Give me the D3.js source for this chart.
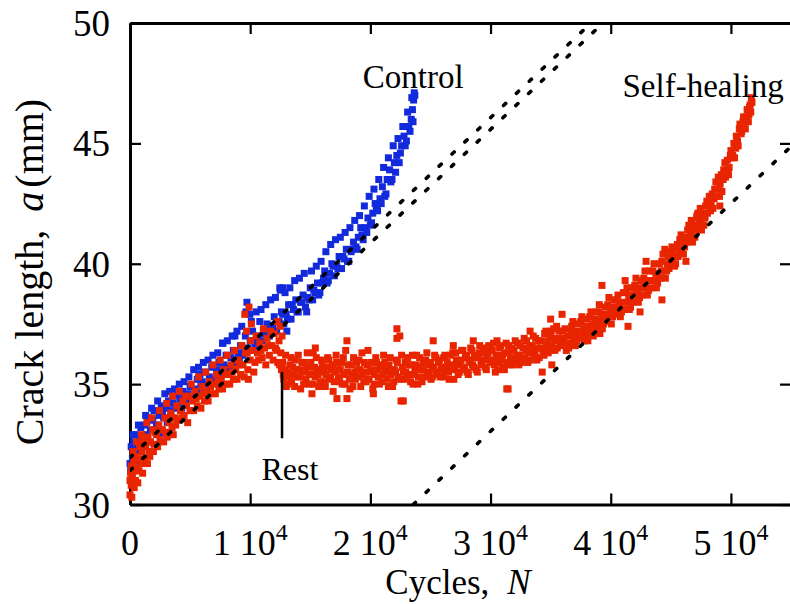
<!DOCTYPE html>
<html>
<head>
<meta charset="utf-8">
<script src="https://cdn.jsdelivr.net/npm/d3@7"></script>
<style>
  html, body { margin: 0; padding: 0; background: #fff; }
  svg { display: block; font-family: "Liberation Serif", "Times New Roman", serif; }
</style>
</head>
<body>
<svg id="chart" width="790" height="604"></svg>
<script>
/* ── DATA ── */
const xTicks = [0, 10000, 20000, 30000, 40000, 50000];
const yTicks = [30, 35, 40, 45, 50];

// control specimen: [cycles, crack length mm]
const control = [
  [0,31.7],[100,32.4],[200,31.9],[300,32.6],[400,32.1],[500,32.9],[600,32.4],[800,32.7],[900,33.2],[1000,32.6],
  [1200,33.3],[1400,32.9],[1500,33.6],[1700,33.1],[1900,33.5],[2000,33.9],[2200,33.3],[2400,33.7],[2600,34.1],[2800,33.6],
  [3000,34.0],[3200,34.3],[3400,33.9],[3600,34.2],[3800,34.5],[3950,34.7],[4000,34.1],[4200,34.4],[4400,34.7],[4600,34.3],[4800,34.6],
  [5000,34.9],[5200,34.5],[5400,34.8],[5600,35.2],[5800,34.7],[5820,35.4],[6000,35.1],[6200,35.5],[6400,35.0],[6600,35.3],[6800,35.7],
  [7000,35.2],[7200,35.6],[7400,35.9],[7600,35.5],[7730,36.7],[7800,35.8],[8000,36.2],[8200,35.7],[8400,36.1],[8600,36.4],[8730,37.0],[8800,35.9],
  [9000,36.3],[9200,36.6],[9400,36.2],[9600,37.0],[9730,38.4],[9800,36.5],[9970,37.9],[10000,36.8],[10200,37.2],[10400,36.6],[10600,37.0],
  [10800,37.6],[11000,36.8],[11200,37.1],[11400,37.5],[11600,37.0],[11800,37.4],[12000,37.8],[12200,37.2],[12400,37.6],[12470,39.0],[12600,38.0],
  [12720,39.0],[12800,37.5],[13000,37.9],[13050,37.2],[13200,38.3],[13400,37.7],[13600,38.1],[13800,38.5],[14000,38.0],[14200,38.4],[14400,38.7],[14600,38.2],
  [14700,38.0],[14800,38.6],[15000,39.0],[15200,38.5],[15400,38.8],[15600,39.2],[15800,38.8],[16000,39.2],[16200,39.7],[16400,39.2],[16600,39.6],
  [16800,40.0],[17000,39.5],[17200,39.9],[17400,40.3],[17600,39.8],[17800,40.2],[18000,40.6],[18200,40.1],[18400,40.5],[18600,40.9],
  [18800,40.7],[19000,41.1],[19200,41.5],[19400,41.0],[19600,41.5],[19800,41.9],[20000,41.6],[20200,42.1],[20400,42.5],[20600,42.2],
  [20800,42.7],[21000,43.2],[21200,42.8],[21400,43.5],[21600,43.9],[21800,43.5],[22000,44.2],[22200,44.5],[22400,44.2],[22600,44.9],
  [22800,45.3],[23000,45.1],[23200,45.7],[23400,46.0],[23500,46.4],[23600,46.8],[23700,47.0],
  [50,31.4],[250,32.9],[450,31.8],[700,33.3],[850,32.2],[1100,32.5],[1300,33.7],[1600,32.6],[1800,34.0],[2100,33.1],
  [2300,34.3],[2500,32.9],[2700,33.8],[2900,34.6],[3100,33.4],[3300,34.7],[3500,33.6],[3700,34.8],[3900,34.0],[4100,35.0],
  [4300,34.0],[4500,35.1],[4700,34.2],[4900,35.3],[5100,34.4],[5300,35.6],[5500,34.5],[5700,35.7],[5900,35.0],[6100,35.9],
  [6300,34.7],[6500,36.0],[6700,35.0],[6900,36.2],[7100,35.1],[7300,36.3],[7500,35.3],[7700,36.7],[7900,35.5],[8100,36.8],
  [8300,35.7],[8500,37.0],[8700,36.0],[8900,37.2],[9100,36.1],[9300,37.4],[9500,36.3],[9650,38.0],[9900,36.4],[10100,37.6],
  [10300,36.8],[10500,38.0],[10700,36.8],[10900,38.1],[11100,37.2],[11300,38.3],[11500,37.3],[11700,38.5],[11900,37.4],[12100,38.6],
  [12300,37.6],[12500,38.9],[12700,37.9],[12900,38.8],[13100,37.7],[13300,39.0],[13500,38.3],[13700,39.3],[13900,38.0],[14100,39.4],
  [14300,38.4],[14500,39.6],[14900,38.5],[15100,39.7],[15300,38.9],[15500,39.9],[15700,38.7],[15900,40.1],[16100,39.4],[16300,40.5],
  [16500,39.3],[16700,40.8],[16900,39.9],[17100,41.0],[17300,39.8],[17500,41.1],[17700,40.3],[17900,41.3],[18100,40.1],[18300,41.5],
  [18500,40.6],[18700,41.8],[18900,40.6],[19100,42.0],[19300,41.2],[19500,42.4],[19700,41.3],[19900,42.8],[20100,41.7],[20300,43.1],
  [20500,42.3],[20700,43.5],[20900,42.5],[21100,44.0],[21300,42.9],[21500,44.4],[21700,43.4],[21900,44.9],[22100,43.8],[22300,45.2],
  [22500,44.6],[22700,45.7],[22900,44.9],[23100,46.3],[23300,45.5],[23450,46.9],[23550,45.9],[23650,47.1]
];

// self-healing specimen: [cycles, crack length mm]
const selfHealing = [
  [0,30.4],[0,31.0],[100,30.8],[100,31.6],[200,31.2],[300,30.9],[300,31.8],[400,31.4],[500,32.0],[600,31.5],
  [700,31.9],[800,32.4],[900,31.7],[1000,32.2],[1100,32.7],[1200,31.9],[1300,32.4],[1500,32.8],[1600,32.2],[1700,32.6],
  [1900,33.1],[2000,32.5],[2200,32.9],[2400,33.3],[2500,32.7],[2700,33.1],[2900,33.6],[3000,33.0],[3200,33.4],[3400,33.8],
  [3500,33.2],[3700,33.6],[3900,34.1],[4000,33.5],[4200,33.9],[4400,34.3],[4500,33.7],[4700,34.1],[4900,34.5],[5000,33.9],
  [5200,34.3],[5400,34.7],[5600,34.1],[5800,34.5],[6000,34.9],[6200,34.3],[6400,34.7],[6600,35.1],[6800,34.6],[7000,35.0],
  [7200,35.4],[7400,34.8],[7600,35.2],[7800,35.6],[8000,35.0],[8200,35.4],[8400,35.8],[8600,35.2],[8800,35.6],[9000,36.0],
  [9200,35.4],[9400,35.8],[9600,36.3],[9700,37.2],[9800,35.6],[9900,38.2],[10000,36.0],[10100,37.5],[10200,36.4],[10400,35.9],
  [10600,36.3],[10800,36.7],[11000,36.1],[11200,36.5],[11400,36.9],[11600,36.2],[11800,36.6],[12000,37.1],[12200,36.4],[12300,35.9],
  [12400,36.8],[12500,37.4],[12600,35.6],
  [50,31.3],[150,30.3],[250,32.2],[350,30.7],[450,31.0],[550,32.6],[650,30.9],[750,31.4],[950,32.9],[1050,31.3],
  [1250,32.6],[1400,33.4],[1450,31.7],[1650,32.0],[1800,33.6],[1950,32.2],[2100,33.0],[2300,32.4],[2450,33.9],[2600,33.1],
  [2800,32.6],[3050,34.2],[3100,32.8],[3300,33.6],[3550,34.5],[3600,32.9],[3800,33.3],[4100,34.7],[4300,33.6],[4600,34.5],
  [4800,33.4],[5100,35.0],[5300,33.9],[5500,34.4],[5700,35.3],[5900,34.0],[6100,34.6],[6300,35.5],[6500,34.3],[6700,34.9],
  [6900,35.8],[7100,34.6],[7300,35.1],[7500,36.0],[7700,34.8],[7900,35.4],[8100,36.2],[8300,35.0],[8500,35.5],[8700,36.4],
  [8900,35.2],[9100,35.8],[9300,36.6],[9500,35.3],[9550,37.9],[9750,36.3],[9850,35.2],[10050,36.8],[10300,35.5],[10500,37.0],
  [10700,36.0],[10900,36.4],[11100,37.3],[11300,35.8],[11500,36.6],[11700,37.2],[11900,36.0],[12100,36.5],[12250,37.6],[12450,35.8],
  [12550,36.3],[12650,37.0],
  // rest plateau
  [12700,35.9],[12800,35.2],[12900,35.6],[13000,34.9],[13150,35.5],[13300,35.8],[13450,35.1],[13600,35.4],[13750,36.0],[13900,35.3],
  [14050,35.6],[14200,34.8],[14350,35.5],[14500,35.9],[14650,35.2],[14800,35.7],[14950,35.0],[15100,35.4],[15140,34.6],[15250,36.3],[15400,35.3],
  [15420,36.5],[15550,35.6],[15700,34.9],[15850,35.5],[16000,35.8],[16150,35.1],[16300,35.4],[16450,36.1],[16600,35.2],[16750,35.6],[16900,34.7],
  [17050,35.5],[17200,35.9],[17220,34.4],[17350,35.3],[17500,35.6],[17650,35.0],[17800,35.4],[17950,36.4],[18050,36.8],[18050,34.4],[18100,35.5],[18250,35.2],[18400,35.8],
  [18550,34.9],[18700,35.5],[18850,35.9],[19000,35.3],[19150,35.6],[19300,36.3],[19450,35.1],[19600,35.5],[19750,35.8],[19900,35.2],
  [20050,35.6],[20200,34.8],[20250,34.6],[20350,35.4],[20500,35.9],[20650,35.3],[20800,35.7],[20950,35.1],[21100,36.2],[21250,35.5],[21400,35.2],
  [21550,35.8],[21700,35.4],[21850,34.9],[22000,35.6],[22150,36.0],[22210,37.3],[22210,36.9],[22300,35.3],[22450,37.0],[22550,34.3],[22650,35.7],[22740,34.3],[22800,35.2],
  [22950,35.5],[23100,36.1],[23250,35.4],[23400,35.8],[23550,35.0],[23700,35.6],[23850,36.2],[24000,35.3],[24150,35.7],[24300,35.1],
  [24450,35.6],[24600,36.0],[24750,35.4],[24900,35.8],[25050,35.2],[25200,35.7],[25230,36.8],[25350,36.2],[25500,35.5],[25650,35.9],[25800,35.3],
  [25950,35.7],[26100,36.1],[26250,35.5],[26400,35.9],[26550,35.2],[26700,35.8],[26850,36.3],[26900,36.6],[27000,35.6],[27150,36.0],[27300,35.4],
  [27450,35.9],[27600,36.4],[27750,35.7],[27900,36.1],[28050,35.5],[28200,36.0],[28350,36.5],[28500,35.8],[28560,36.8],[28650,36.2],[28800,35.6],
  [28950,36.1],[29100,36.6],[29250,35.9],[29400,36.3],[29550,35.7],[29700,36.2],[29850,36.6],[30000,35.9],
  [12750,35.4],[12950,36.2],[13100,35.0],[13250,35.3],[13400,36.1],[13550,35.7],[13700,34.9],[13850,35.6],[14000,36.2],[14150,35.3],
  [14300,35.9],[14450,35.0],[14600,35.6],[14750,36.3],[14900,35.4],[15050,35.9],[15200,35.0],[15350,35.7],[15500,36.1],[15650,35.4],
  [15800,35.1],[15950,36.0],[16100,35.6],[16250,34.9],[16400,35.7],[16550,36.0],[16700,35.3],[16850,35.8],[17000,35.1],[17150,36.2],
  [17300,35.6],[17450,35.1],[17600,35.9],[17750,36.1],[17900,35.0],[18150,35.8],[18300,34.8],[18450,35.4],[18600,36.1],[18750,35.2],
  [18900,35.6],[19050,36.0],[19200,34.9],[19350,35.4],[19500,35.9],[19650,35.1],[19800,36.4],[19950,35.5],[20100,35.9],[20300,35.0],
  [20450,36.1],[20600,35.6],[20750,35.0],[20900,35.8],[21050,35.4],[21200,35.9],[21350,35.7],[21500,34.9],[21650,36.1],[21800,35.6],
  [21950,35.1],[22100,35.5],[22250,35.9],[22400,35.2],[22600,36.2],[22750,35.5],[22900,35.9],[23050,35.3],[23200,35.8],[23350,35.1],
  [23500,36.2],[23650,35.4],[23800,35.8],[23950,35.0],[24100,36.1],[24250,35.6],[24400,35.9],[24550,35.3],[24700,36.3],[24850,35.5],
  [25000,35.9],[25150,35.3],[25300,35.6],[25450,36.1],[25600,35.4],[25750,36.0],[25900,35.6],[26050,35.3],[26200,36.2],[26350,35.7],
  [26500,35.5],[26650,36.2],[26800,35.7],[26950,35.2],[27100,36.3],[27250,35.8],[27400,35.5],[27550,36.0],[27700,36.4],[27850,35.6],
  [28000,36.2],[28150,35.4],[28300,35.9],[28450,36.4],[28600,35.7],[28750,36.1],[28900,35.5],[29050,36.3],[29200,35.8],[29350,36.5],
  [29500,36.0],[29650,35.6],[29800,36.3],[29950,36.5],
  // after rest
  [30150,36.4],[30300,35.8],[30450,36.2],[30540,36.8],[30600,35.6],[30750,36.5],[30900,36.0],[31050,35.7],[31200,36.3],[31350,35.9],[31350,34.8],[31460,34.8],[31500,36.6],
  [31650,36.1],[31800,35.8],[31950,36.4],[32100,36.0],[32250,36.7],[32400,36.2],[32550,35.9],[32700,36.5],[32850,36.1],[33000,36.8],
  [33150,36.3],[33290,37.2],[33300,36.0],[33450,36.6],[33600,36.2],[33750,36.9],[33900,36.5],[34050,36.1],[34200,36.8],[34300,35.5],[34350,36.4],[34500,37.1],
  [34650,36.6],[34800,36.3],[34950,37.0],[35000,37.7],[35100,36.6],[35100,35.8],[35250,37.3],[35400,36.8],[35550,36.5],[35700,37.2],[35850,36.8],[35950,37.9],[36000,37.2],
  [36150,36.7],[36300,36.4],[36450,37.0],[36600,36.7],[36750,37.4],[36900,36.9],[37050,36.6],[37200,37.2],[37350,36.9],[37500,37.6],
  [37650,37.1],[37800,36.8],[37950,37.4],[38100,37.1],[38100,36.8],[38250,37.8],[38400,37.3],[38550,37.0],[38700,37.7],[38850,37.4],[39000,38.0],
  [39100,37.1],[39150,37.6],[39270,39.1],[39300,37.3],[39450,37.9],[39600,37.6],[39750,38.3],[39900,37.8],[40050,37.5],[40200,38.2],[40350,37.9],[40500,38.5],
  [40650,38.1],[40800,37.8],[40950,38.4],[41100,38.1],[41200,39.3],[41250,38.8],[41400,38.4],[41440,37.4],[41550,38.1],[41700,38.7],[41850,38.4],[42000,39.1],
  [42150,38.7],[42300,38.4],[42440,38.0],[42450,39.0],[42600,38.7],[42750,39.4],[42900,39.0],[42940,40.1],[43050,38.7],[43200,39.3],[43350,39.0],[43500,39.7],
  [43650,39.3],[43800,39.0],[43950,39.6],[44100,39.4],[44250,40.1],[44260,38.5],[44400,39.7],[44500,40.6],[44550,39.4],[44700,40.0],[44850,39.8],[45000,40.5],
  [45150,40.2],[45300,39.9],[45450,40.6],[45600,40.3],[45750,41.0],[45900,40.6],[46050,40.4],[46200,41.1],[46260,40.1],[46350,40.9],[46500,41.6],
  [46650,41.2],[46800,40.9],[46950,41.6],[47100,41.4],[47180,42.0],[47250,42.1],[47400,41.7],[47550,41.4],[47700,42.1],[47850,41.9],[48000,42.6],
  [48150,42.4],[48300,42.2],[48450,42.9],[48600,42.7],[48750,43.4],[48900,43.1],[49050,42.8],[49080,42.4],[49200,43.7],[49350,43.5],[49500,44.2],
  [49650,43.9],[49800,43.7],[49950,44.5],[50100,44.4],[50250,45.0],[50400,44.8],[50550,45.1],[50700,45.6],[50850,45.4],[51000,45.9],
  [51150,45.8],[51300,46.1],[51400,46.4],[51500,46.2],[51600,46.6],[51700,46.9],
  [30100,36.0],[30250,36.7],[30400,35.5],[30550,36.1],[30700,35.9],[30850,36.6],[31000,36.2],[31150,35.6],[31300,36.7],[31450,36.3],
  [31600,35.8],[31750,36.5],[31900,35.9],[32050,36.8],[32200,36.2],[32350,35.8],[32500,36.6],[32650,36.0],[32800,36.9],[32950,36.4],
  [33100,35.9],[33250,36.6],[33400,36.4],[33550,37.0],[33700,36.3],[33850,36.0],[34000,36.8],[34150,36.5],[34450,36.2],[34600,37.2],
  [34750,36.8],[34900,36.4],[35050,37.2],[35200,36.9],[35350,36.4],[35500,37.4],[35650,36.9],[35800,36.6],[36050,36.9],[36200,37.3],
  [36350,36.7],[36500,36.5],[36700,37.2],[36850,37.6],[37000,37.0],[37150,36.8],[37300,37.5],[37450,37.1],[37600,37.8],[37750,37.3],
  [37900,36.9],[38050,37.7],[38200,37.4],[38350,38.0],[38500,37.5],[38650,37.2],[38800,38.0],[38950,37.6],[39050,38.3],[39250,37.8],
  [39400,37.5],[39550,38.2],[39700,37.9],[39850,38.6],[40000,38.1],[40150,37.8],[40300,38.5],[40450,38.2],[40600,38.7],[40750,38.3],
  [40900,38.0],[41050,38.8],[41350,39.0],[41500,38.6],[41650,38.2],[41800,39.0],[41950,38.7],[42100,39.4],[42250,38.9],[42400,38.6],
  [42550,39.3],[42700,39.0],[42850,39.7],[43000,39.3],[43150,38.9],[43300,39.7],[43450,39.3],[43600,40.0],[43750,39.6],[43900,39.2],
  [44050,40.0],[44200,39.7],[44350,40.4],[44650,39.7],[44800,40.3],[44950,40.0],[45100,40.7],[45250,40.3],[45400,40.0],[45550,40.8],
  [45700,40.5],[45850,41.2],[46000,40.9],[46150,40.7],[46400,41.4],[46550,41.1],[46700,41.8],[46850,41.4],[47000,41.1],[47150,41.9],
  [47300,41.6],[47450,42.3],[47600,41.9],[47750,41.6],[47900,42.4],[48050,42.1],[48200,42.8],[48350,42.5],[48500,42.3],[48650,43.1],
  [48800,42.8],[48950,43.6],[49100,43.3],[49250,43.0],[49400,43.9],[49550,43.6],[49700,44.3],[49850,44.0],[50000,44.7],[50150,44.5],
  [50300,44.4],[50450,45.3],[50600,44.9],[50750,45.8],[50900,45.5],[51050,46.1],[51200,45.6],[51350,46.4],[51450,45.9],[51550,46.5],
  [51650,46.3],[51750,46.7]
];

// dotted linear fits: [[cycles, a], [cycles, a]]
const fits = [
  [[0, 31.95], [38360, 50]],
  [[0, 31.41], [39360, 50]],
  [[23570, 30], [55000, 44.87]]
];

// rest period marker
const restMark = [[12650, 32.75], [12650, 35.5]];

/* ── CHART ── */
const svg = d3.select('#chart');
const W = 790, H = 604;
svg.append('rect').attr('width', W).attr('height', H).attr('fill', '#fff');

const x = d3.scaleLinear().domain([0, 55000]).range([130, 791]);
const y = d3.scaleLinear().domain([30, 50]).range([504.5, 23]);

const BLUE = '#1229dc', RED = '#e82500';

// frame + inward ticks
const axes = [
  { ax: d3.axisBottom(x).tickValues(xTicks), tr: `translate(0,${y(30)})` },
  { ax: d3.axisTop(x).tickValues(xTicks), tr: `translate(0,${y(50)})` },
  { ax: d3.axisLeft(y).tickValues(yTicks), tr: `translate(${x(0)},0)` },
  { ax: d3.axisRight(y).tickValues(yTicks), tr: `translate(${x(55000)},0)` }
];
axes.forEach(a => {
  const g = svg.append('g').attr('transform', a.tr)
    .call(a.ax.tickSizeInner(-11).tickSizeOuter(0).tickFormat(''));
  g.select('.domain').attr('stroke', '#000').attr('stroke-width', 3);
  g.selectAll('.tick line').attr('stroke', '#000').attr('stroke-width', 2.2);
});

// tick labels
svg.append('g').selectAll('text').data(yTicks).join('text')
  .attr('x', 110).attr('y', d => y(d) + 13)
  .attr('text-anchor', 'end').attr('font-size', 37)
  .text(d => d);

const xl = svg.append('g').selectAll('text').data(xTicks).join('text')
  .attr('x', d => x(d)).attr('y', 555)
  .attr('text-anchor', 'middle').attr('font-size', 36);
xl.each(function (d) {
  const t = d3.select(this);
  if (d === 0) { t.text('0'); return; }
  t.append('tspan').text(d / 1e4 + ' 10');
  t.append('tspan').attr('dy', -15).attr('font-size', 24).text('4');
});

// axis titles
const xt = svg.append('text').attr('x', 458).attr('y', 594)
  .attr('text-anchor', 'middle').attr('font-size', 35);
xt.append('tspan').text('Cycles,');
xt.append('tspan').attr('dx', 18).attr('font-style', 'italic').text('N');

const yt = svg.append('text')
  .attr('transform', 'translate(43,272) rotate(-90)')
  .attr('text-anchor', 'middle').attr('font-size', 40);
yt.append('tspan').text('Crack length,');
yt.append('tspan').attr('dx', 18).attr('font-style', 'italic').text('a');
yt.append('tspan').attr('dx', 4).text('(mm)');

// data points
const S = 7;
svg.append('g').selectAll('rect').data(control).join('rect')
  .attr('x', d => x(d[0]) - S / 2).attr('y', d => y(d[1]) - S / 2)
  .attr('width', S).attr('height', S).attr('fill', BLUE);

svg.append('g').selectAll('rect').data(selfHealing).join('rect')
  .attr('x', d => x(d[0]) - S / 2).attr('y', d => y(d[1]) - S / 2)
  .attr('width', S).attr('height', S).attr('fill', RED);

// fits
const line = d3.line().x(d => x(d[0])).y(d => y(d[1]));
svg.append('defs').append('clipPath').attr('id', 'plot')
  .append('rect').attr('x', x(0)).attr('y', y(50))
  .attr('width', x(55000) - x(0)).attr('height', y(30) - y(50));

svg.append('g').attr('clip-path', 'url(#plot)').selectAll('path').data(fits).join('path')
  .attr('d', line).attr('fill', 'none').attr('stroke', '#000')
  .attr('stroke-width', 3.6).attr('stroke-linecap', 'round')
  .attr('stroke-dasharray', '3,14.7');

// rest marker
svg.append('path').datum(restMark).attr('d', line)
  .attr('stroke', '#000').attr('stroke-width', 2.5);

// annotations
svg.append('text').attr('x', x(19370)).attr('y', 88).attr('font-size', 33).text('Control');
svg.append('text').attr('x', x(40980)).attr('y', 97).attr('font-size', 33).text('Self-healing');
svg.append('text').attr('x', x(13300)).attr('y', 480).attr('text-anchor', 'middle')
  .attr('font-size', 32).text('Rest');
</script>
</body>
</html>
